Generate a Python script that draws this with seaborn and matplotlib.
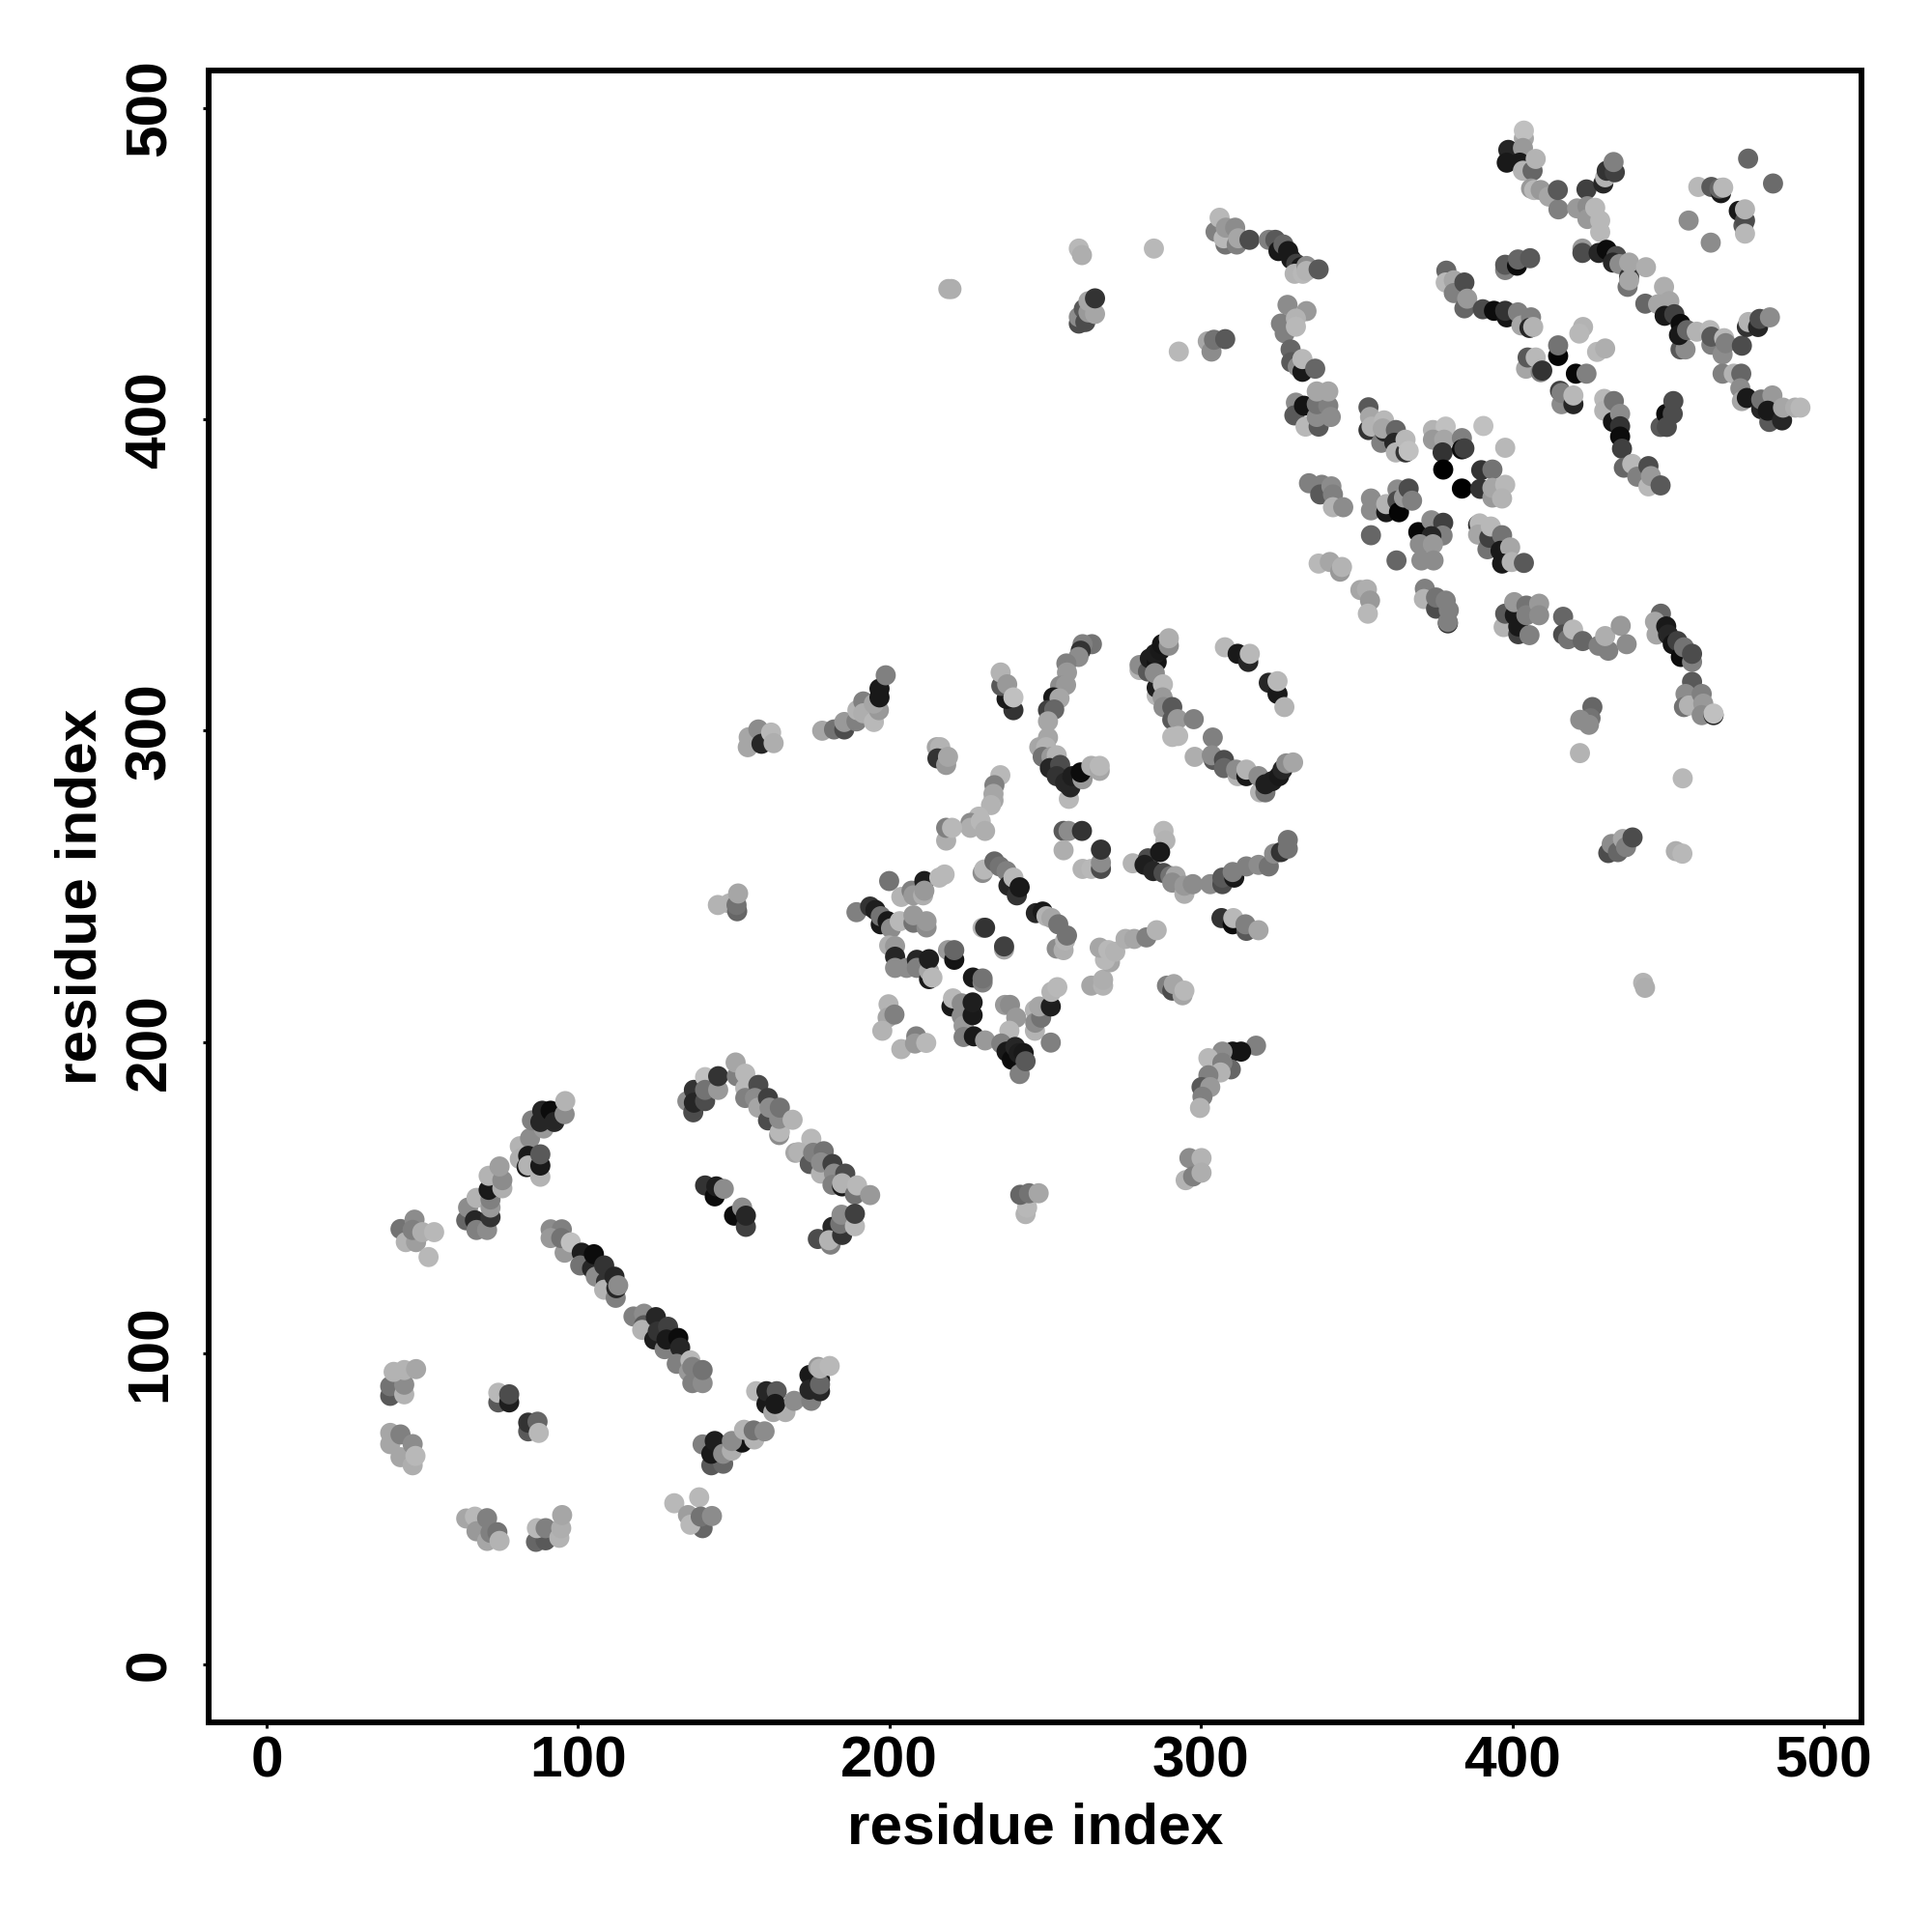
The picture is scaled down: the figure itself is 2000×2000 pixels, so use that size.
# Residue contact map, drawn from contacts
import pandas as pd
import matplotlib
matplotlib.use('Agg')
import matplotlib.pyplot as plt
import seaborn as sns

sns.set_theme(style='white')
plt.rcParams['font.family'] = ['Liberation Sans', 'DejaVu Sans']
plt.rcParams['font.weight'] = 'bold'

# each contact is (residue index, residue index, grey level)
lower_left = [
    (43.0,139.9,.45),(47.5,142.9,.55),(44.7,135.7,.7),(48.0,135.7,.62),(46.9,139.6,.5),(50.0,138.9,.68),(53.8,138.9,.72),(52.0,130.9,.72),
    (64.1,142.7,.4),(64.7,146.8,.55),(66.9,142.7,.15),(67.4,139.6,.5),(70.8,139.6,.55),(67.4,149.9,.7),(71.9,143.7,.2),(71.9,146.8,.6),
    (71.9,149.4,.5),(71.3,152.5,.1),(71.3,157.0,.7),(75.7,153.0,.68),(75.7,155.6,.55),(74.8,160.0,.62),
    (81.3,166.5,.7),(81.3,162.4,.68),(83.5,159.8,.1),(84.6,169.1,.55),(84.0,163.4,.1),(84.0,160.3,.7),(87.9,156.7,.7),(87.9,160.3,.1),
    (87.9,163.9,.35),(85.2,174.8,.5),(89.0,172.2,.6),(87.9,174.3,.15),(88.5,177.9,.15),(91.2,177.9,.05),(92.4,174.3,.15),(95.7,176.8,.55),(95.9,181.0,.7),
    (39.7,86.3,.35),(39.7,89.4,.45),(44.2,86.8,.7),(44.2,89.9,.55),(40.8,94.0,.7),(44.2,94.6,.7),(48.0,94.9,.65),
    (39.7,74.4,.65),(39.7,70.8,.65),(43.0,73.9,.5),(43.0,66.6,.65),(46.9,70.8,.55),(46.9,64.0,.68),(47.8,67.0,.72),
    (74.4,84.2,.35),(74.4,87.3,.72),(77.9,84.2,.12),(77.9,86.8,.3),(84.0,74.9,.35),(84.0,77.7,.2),(87.0,78.0,.4),(87.4,74.4,.72),
    (64.1,46.9,.65),(66.9,47.5,.72),(67.4,42.8,.6),(70.8,47.0,.5),(70.8,39.7,.65),(71.9,42.3,.5),(74.1,42.5,.45),(74.8,39.7,.7),
    (86.5,39.4,.4),(89.6,39.9,.35),(86.8,43.8,.72),(89.6,43.8,.5),(94.0,40.7,.7),(94.6,43.8,.68),(94.9,48.0,.65),
]
first_diagonal = [
    (91.2,139.8,.55),(94.8,139.8,.5),(91.2,137.0,.6),(95.7,132.3,.6),(94.6,137.0,.45),(97.7,135.6,.75),(101.2,132.3,.12),(100.7,128.2,.45),
    (104.5,127.2,.15),(105.1,131.8,.05),(105.7,124.6,.55),(108.4,128.2,.2),(109.0,123.0,.2),(108.4,120.4,.7),(112.1,117.8,.5),(111.7,124.6,.15),
    (112.3,120.9,.15),(112.9,121.8,.55),
    (117.8,111.8,.5),(121.2,112.7,.55),(121.2,109.0,.35),(120.6,107.5,.7),(125.0,111.6,.15),(124.5,104.4,.12),(127.8,101.3,.5),(125.6,107.0,.2),
    (128.9,108.5,.25),(128.4,104.4,.1),(132.2,104.9,.05),(132.8,101.8,.15),(131.7,96.6,.5),(136.1,97.7,.72),(135.6,94.0,.6),(136.7,90.4,.5),
    (140.0,90.4,.55),(136.7,95.6,.5),(140.0,94.6,.45),
]
lower_middle = [
    (157.2,87.8,.72),(160.5,83.7,.1),(160.5,87.8,.15),(163.8,87.8,.35),(162.7,81.1,.65),(166.6,81.1,.68),(163.3,83.7,.1),(169.4,84.7,.55),
    (174.9,84.7,.5),(174.3,93.0,.1),(174.3,88.3,.15),(177.7,87.8,.15),(177.7,91.5,.1),(177.7,90.0,.4),(177.1,95.6,.6),(177.7,95.1,.7),(180.8,95.9,.72),
    (140.0,70.7,.5),(142.8,64.0,.35),(146.6,64.5,.4),(142.8,67.7,.1),(143.9,71.8,.12),(146.6,67.7,.55),(149.4,68.7,.68),(152.7,71.3,.08),
    (149.4,71.8,.55),(153.3,75.4,.7),(156.6,72.3,.7),(156.4,75.2,.45),(159.9,74.9,.55),
    (130.9,51.8,.72),(138.9,53.7,.72),(140.0,43.8,.4),(135.3,48.0,.62),(136.1,44.9,.72),(139.4,47.5,.45),(143.0,47.7,.55),
    (135.1,181.0,.55),(137.0,177.4,.3),(137.2,184.6,.2),(137.2,180.5,.15),(140.8,181.0,.3),(140.8,188.7,.75),(140.8,184.6,.45),(145.0,184.6,.6),(145.0,189.0,.2),
    (151.0,189.0,.5),(150.6,193.4,.65),(153.7,189.8,.72),(153.7,185.1,.72),(153.7,182.0,.5),(157.9,186.2,.3),(156.8,182.0,.55),(157.9,178.9,.65),
    (161.0,182.0,.25),(161.0,174.8,.3),(161.5,178.9,.55),(164.6,170.1,.55),(164.8,171.1,.72),(164.6,175.3,.55),(164.8,178.9,.45),(168.9,175.0,.7),
    (174.9,168.9,.72),(169.8,164.4,.65),(170.8,164.6,.7),(174.4,160.8,.35),(175.5,164.4,.5),(178.9,164.9,.45),(178.0,157.7,.7),(178.0,161.3,.55),
    (181.7,160.8,.25),(182.2,157.7,.55),(181.7,154.1,.5),(184.8,153.6,.1),(185.8,157.7,.3),(184.8,154.6,.7),(188.9,151.0,.45),(189.6,153.9,.72),(193.8,150.8,.6),
    (177.0,136.7,.3),(181.1,134.9,.5),(181.7,140.6,.15),(180.6,136.3,.7),(184.8,138.0,.2),(184.2,141.6,.45),(184.6,144.5,.55),(188.9,140.8,.72),(188.9,144.8,.25),
    (140.8,153.9,.2),(143.9,150.4,.05),(144.4,153.6,.12),(146.8,152.8,.55),(150.1,144.2,.05),(152.7,146.8,.55),(153.9,140.6,.25),(153.9,144.2,.15),
    (154.5,294.7,.65),(154.8,297.9,.65),(157.9,300.4,.55),(158.9,295.8,.15),(162.0,299.4,.72),(162.8,296.0,.68),
    (144.9,244.0,.7),(148.6,244.5,.7),(151.1,242.0,.4),(150.9,244.0,.45),(151.4,247.7,.65),
    (243.7,144.7,.7),(244.2,146.8,.72),(242.0,150.9,.4),(244.8,151.4,.45),(247.9,151.4,.65),
    (296.3,162.7,.55),(295.1,155.6,.7),(297.5,156.8,.5),(300.2,162.7,.7),(300.2,158.0,.68),
]
central = [
    (178.4,300.0,.65),(182.2,300.4,.45),(185.5,300.4,.3),(185.5,302.8,.6),(189.4,303.0,.5),(189.7,306.6,.7),(191.6,309.4,.5),(191.6,305.6,.68),(195.0,302.8,.72),
    (196.6,306.6,.6),(195.0,308.7,.65),(196.8,310.7,.1),(196.8,313.5,.1),(198.8,317.8,.5),
    (215.2,294.7,.65),(216.3,294.7,.7),(215.4,291.1,.2),(218.2,289.0,.6),(218.8,291.6,.65),
    (235.6,285.7,.72),(233.7,282.5,.5),(233.4,279.7,.65),(233.4,277.6,.65),(232.6,276.1,.7),(228.7,272.4,.72),(226.0,270.4,.55),(226.0,268.8,.68),
    (229.3,270.9,.72),(230.7,267.8,.68),(218.2,264.7,.68),(218.2,268.8,.5),(220.1,268.8,.72),
    (239.8,306.6,.2),(237.6,310.2,.1),(235.9,314.4,.35),(235.7,318.7,.7),(237.8,314.9,.6),(239.8,310.7,.75),
    (265.0,327.8,.45),(262.0,327.8,.5),(261.4,325.7,.2),(260.7,323.7,.55),(256.8,321.6,.5),(257.0,318.7,.6),(254.8,314.4,.55),(256.7,314.7,.6),
    (252.6,310.7,.1),(254.6,310.4,.65),(250.9,306.6,.25),(252.9,306.8,.4),(250.9,303.0,.65),
    (250.9,297.8,.65),(248.1,294.7,.65),(250.3,294.7,.7),(249.2,291.6,.45),(252.0,291.6,.6),(253.7,292.1,.7),(251.5,288.0,.15),(254.8,289.0,.3),
    (253.7,285.4,.2),(257.6,278.1,.72),(258.1,281.8,.15),(256.4,283.3,.15),(258.7,285.4,.12),(262.0,284.4,.6),(261.4,286.6,.05),(264.8,288.7,.68),(267.5,287.1,.65),(267.5,288.7,.72),
    (280.3,319.5,.7),(280.3,321.1,.55),(283.0,319.0,.35),(283.6,323.2,.12),(285.8,322.1,.08),(285.3,324.7,.12),(286.9,325.8,.1),(287.5,327.8,.08),(289.7,327.3,.55),(289.7,329.7,.68),
    (285.8,311.3,.72),(285.8,313.8,.12),(285.2,318.5,.55),(287.8,314.9,.72),(287.7,310.7,.6),(288.0,307.6,.55),(290.8,307.6,.35),(290.8,303.5,.35),(292.5,303.7,.6),(297.7,303.7,.5),(290.8,298.0,.72),(292.7,298.3,.72),
    (303.8,297.8,.5),(298.0,291.6,.68),(304.1,290.6,.35),(303.5,292.1,.55),(307.4,290.6,.3),(307.4,288.0,.4),(311.8,285.4,.7),(311.3,287.5,.55),(314.6,285.4,.1),(314.6,287.5,.7),
    (319.0,280.2,.7),(320.7,280.2,.45),(318.5,285.4,.55),(320.7,282.8,.12),(322.9,283.8,.12),(325.1,285.4,.1),(326.2,287.5,.15),(327.4,289.5,.55),(329.6,289.8,.65),
    (307.7,326.8,.72),(311.8,324.7,.1),(315.2,322.1,.15),(315.7,324.7,.72),(321.8,315.4,.15),(324.6,311.8,.1),(324.6,315.9,.72),(326.8,307.6,.7),
    (199.9,251.7,.45),(203.8,246.6,.7),(207.1,248.6,.5),(207.7,247.1,.6),(210.8,247.1,.68),(211.2,251.7,.12),(211.2,248.6,.6),(216.0,252.8,.72),(217.7,253.8,.72),
    (229.9,254.3,.55),(230.4,255.4,.72),(233.7,258.0,.4),(235.4,256.4,.45),(237.6,254.9,.5),(238.2,250.2,.15),(239.8,252.8,.72),(240.9,247.1,.2),(241.8,249.7,.1),
    (247.0,241.4,.15),(249.2,241.9,.1),(250.4,240.4,.7),(253.7,230.0,.55),(255.9,229.5,.68),(252.0,239.8,.65),(254.2,237.8,.45),(256.4,232.6,.7),(257.0,234.2,.45),
    (189.4,241.7,.5),(193.8,243.5,.2),(195.5,242.4,.12),(197.2,237.8,.1),(197.2,240.4,.45),(199.4,238.8,.1),(200.5,236.5,.55),(203.3,238.8,.72),(207.7,238.3,.45),(207.7,240.7,.6),(211.9,236.8,.55),(211.9,238.8,.6),
    (199.9,231.0,.68),(201.8,230.8,.6),(201.8,227.4,.15),(201.8,223.8,.55),(205.5,223.8,.55),(208.8,226.4,.15),(208.8,223.8,.5),(212.7,220.2,.1),(212.7,222.8,.65),(212.7,226.6,.12),(213.8,220.7,.72),
    (218.8,229.5,.6),(220.8,226.4,.08),(220.8,229.5,.4),(229.9,236.7,.7),(230.7,236.7,.2),(236.8,229.7,.65),(236.8,230.7,.25),(226.8,220.7,.1),(229.9,219.1,.5),(229.9,220.4,.45),
    (199.7,212.1,.7),(199.4,207.8,.65),(201.6,208.8,.5),(197.7,203.6,.7),(203.8,197.7,.7),(208.6,201.8,.5),(208.2,199.5,.6),(211.8,199.7,.72),
    (219.9,211.4,.1),(220.4,214.0,.72),(223.2,212.4,.55),(223.2,208.3,.55),(223.8,205.2,.6),(223.8,201.6,.5),(226.7,208.6,.1),(226.7,212.7,.12),(227.1,201.8,.1),(230.7,200.5,.6),
    (237.1,211.9,.6),(238.7,211.9,.55),(240.7,207.8,.6),(238.5,203.6,.72),(235.9,199.5,.5),(237.6,196.9,.1),(239.3,194.3,.05),(240.4,198.4,.15),(241.5,196.4,.12),(243.1,196.4,.1),(241.8,189.7,.5),(243.7,193.8,.35),
    (246.7,210.3,.7),(246.7,203.6,.7),(246.8,206.2,.55),(248.7,207.8,.45),(248.1,211.4,.65),(251.8,211.4,.12),(252.0,216.1,.7),(253.9,217.6,.72),(251.8,199.8,.5),
    (264.8,218.1,.65),(268.6,218.1,.7),(268.6,220.0,.68),(270.8,225.6,.65),(269.2,226.4,.72),(267.5,230.3,.65),(270.3,229.5,.72),(272.5,229.0,.7),(275.8,233.1,.68),(278.6,233.1,.65),(282.5,233.6,.5),(285.8,235.9,.7),
    (255.9,267.8,.35),(255.9,261.6,.68),(257.5,267.8,.55),(261.8,267.8,.2),(262.0,255.6,.7),(264.8,255.6,.72),(267.9,255.6,.3),(267.9,257.6,.55),(267.9,261.8,.2),
    (288.0,267.8,.72),(288.6,264.7,.7),(278.1,257.4,.7),(283.0,259.0,.3),(281.9,256.9,.12),(286.9,261.0,.1),(284.7,254.9,.15),(288.0,254.3,.3),(290.2,253.3,.45),(291.9,253.3,.65),(290.8,251.2,.55),(294.7,247.6,.68),(294.7,250.2,.6),(297.4,250.7,.55),
    (303.0,250.7,.55),(306.9,250.7,.3),(306.9,252.8,.35),(310.7,252.8,.1),(310.2,254.6,.5),(314.6,256.4,.5),(318.5,256.9,.55),(321.8,256.4,.45),(323.5,260.5,.55),(325.7,261.0,.2),(327.9,262.1,.45),(327.9,264.9,.45),
    (306.6,239.8,.2),(310.2,237.8,.05),(310.4,239.8,.72),(314.6,235.7,.35),(314.3,237.8,.5),(318.5,235.9,.65),
    (289.1,218.1,.5),(290.8,216.5,.3),(291.3,218.6,.65),(294.1,215.0,.65),(294.7,216.5,.72),
    (317.7,198.8,.5),(312.9,196.9,.08),(310.2,196.9,.08),(306.9,196.9,.55),(302.4,194.8,.72),(309.6,191.2,.4),(306.9,193.3,.5),(306.3,190.2,.7),(302.4,189.3,.5),(300.2,185.5,.35),(303.0,185.5,.6),(300.5,182.4,.5),(299.7,178.8,.7),
]
upper_left = [
    (218.9,441.9,.68),(219.9,441.9,.68),(260.8,454.9,.72),(261.8,452.8,.68),(284.9,454.9,.72),(292.9,421.8,.72),
    (260.8,430.8,.3),(260.8,432.9,.55),(262.4,435.5,.35),(262.9,431.3,.3),(263.9,434.4,.6),(263.9,438.0,.65),(266.0,433.9,.65),(266.0,438.9,.2),
    (302.2,425.1,.65),(303.4,421.8,.55),(304.2,425.6,.45),(307.8,425.8,.35),
    (304.7,460.3,.5),(306.0,464.8,.72),(307.9,456.2,.45),(307.3,458.2,.72),(308.0,461.6,.6),(311.0,461.6,.55),(311.5,456.2,.5),(312.0,458.2,.65),(315.6,457.7,.3),
    (321.8,457.7,.5),(323.9,457.7,.35),(324.9,454.1,.1),(326.5,456.2,.4),(328.0,454.1,.1),(329.0,451.5,.1),(330.6,450.0,.25),(332.1,448.9,.1),(330.1,446.8,.7),(332.7,446.8,.72),(333.9,449.3,.55),(333.9,447.7,.7),(337.8,448.2,.35),
    (327.8,436.8,.55),(333.9,434.8,.6),(325.7,430.8,.5),(326.9,427.7,.5),(330.5,432.4,.7),(330.5,429.8,.72),(328.8,422.5,.4),(329.0,418.4,.35),(331.1,416.9,.55),(332.6,415.3,.1),(332.6,419.4,.72),(336.7,416.3,.4),
]
middle_cross = [
    (330.5,405.4,.55),(330.0,401.3,.35),(333.6,397.7,.72),(333.1,404.4,.08),(337.8,397.7,.35),(337.2,400.8,.55),(337.2,404.9,.45),(340.9,404.4,.5),(341.7,400.8,.55),(337.2,409.0,.65),(340.9,409.0,.65),
    (353.8,403.9,.35),(353.8,396.6,.2),(354.3,400.8,.65),(354.8,397.7,.7),(357.9,392.5,.5),(358.8,399.7,.72),(359.0,396.1,.15),(358.4,397.1,.65),(362.6,396.6,.4),(362.1,392.5,.15),(362.6,389.4,.7),(365.7,389.4,.2),(365.7,393.5,.72),(366.7,389.9,.75),
    (374.5,396.6,.7),(378.6,397.7,.75),(374.5,393.5,.6),(378.1,393.5,.65),(377.6,389.4,.2),(383.8,394.0,.5),(383.8,390.4,.05),(384.6,390.7,.25),(390.7,397.9,.75),(397.7,390.9,.72),
    (377.8,383.9,.0),(383.8,377.8,.0),(390.0,383.7,.2),(393.6,383.9,.45),(389.7,377.7,.2),(393.6,374.9,.6),(393.6,378.0,.65),(397.7,379.0,.72),(396.7,374.6,.7),
    (334.7,379.5,.5),(338.8,379.0,.5),(338.3,375.9,.35),(341.9,378.5,.55),(342.4,375.9,.5),(342.4,371.8,.7),(345.7,371.8,.55),
    (354.6,374.6,.55),(354.6,370.8,.55),(359.5,370.2,.1),(359.5,372.8,.7),(363.1,377.5,.55),(363.1,373.9,.3),(363.6,370.2,.02),(365.2,374.9,.6),(366.7,377.8,.3),(367.8,373.9,.5),(354.6,362.8,.4),
    (369.8,363.8,.03),(374.0,367.6,.55),(377.8,366.8,.25),(377.6,362.7,.5),(374.0,362.5,.15),(370.3,359.9,.55),(374.5,359.9,.6),(370.8,354.7,.55),(374.7,354.7,.55),(362.8,354.7,.4),
    (389.0,366.1,.2),(389.5,366.6,.72),(389.0,363.0,.65),(392.0,358.3,.45),(392.6,362.0,.25),(393.1,365.6,.72),(396.7,362.8,.45),(396.2,357.8,.1),(399.3,358.9,.65),(396.7,353.7,.1),(399.8,354.2,.7),(403.7,353.9,.35),
    (337.8,353.7,.72),(341.4,354.2,.65),(344.7,351.1,.6),(345.3,352.6,.7),(351.2,345.2,.65),(353.3,345.4,.68),(354.3,341.8,.6),(353.6,337.6,.72),
    (371.9,345.6,.5),(371.6,342.3,.7),(375.5,339.2,.3),(375.5,342.8,.45),(378.6,341.8,.5),(379.3,334.5,.15),(379.6,338.7,.5),(379.3,334.9,.5),
    (397.2,333.3,.7),(397.7,337.6,.35),(400.8,337.1,.1),(400.6,341.3,.6),(401.9,331.0,.25),(401.9,333.5,.1),(404.5,340.2,.45),(404.5,337.1,.5),(405.5,330.7,.5),(408.6,340.8,.6),(408.6,337.1,.55),
    (416.3,336.6,.4),(416.3,330.9,.3),(417.9,329.4,.45),(419.5,332.5,.72),(422.6,328.8,.4),(427.7,327.3,.5),(430.8,325.7,.5),(429.8,330.4,.68),(434.8,333.7,.6),(436.7,327.8,.55),
    (447.7,337.6,.4),(445.8,335.0,.65),(446.3,330.9,.65),(449.4,333.5,.1),(450.0,330.9,.15),(451.5,327.8,.08),(453.0,328.8,.25),(454.1,323.7,.05),(455.1,326.8,.45),(457.7,322.1,.5),(457.7,324.7,.3),
    (457.7,315.7,.35),(455.6,311.8,.55),(455.1,307.6,.45),(456.7,308.1,.7),(460.8,311.8,.5),(461.3,308.7,.6),(460.8,305.0,.55),(464.6,305.0,.15),(464.6,305.5,.75),
    (425.7,307.6,.4),(425.1,304.0,.45),(421.8,303.5,.55),(424.6,301.9,.55),(421.7,292.8,.7),(454.7,284.7,.72),
    (430.8,260.7,.3),(431.9,263.6,.55),(433.9,261.0,.4),(435.5,265.2,.65),(436.5,262.6,.5),(438.6,265.7,.3),(452.5,261.3,.68),(454.6,260.5,.72),
    (442.0,219.0,.7),(442.6,217.4,.68),
]
upper_right = [
    (398.7,486.6,.15),(398.2,482.5,.1),(403.7,490.3,.65),(403.7,492.8,.75),(403.4,487.2,.6),(402.4,482.5,.1),(403.4,479.9,.7),(406.5,479.9,.4),(407.5,483.7,.7),(406.0,474.2,.6),(407.0,473.7,.72),(409.1,473.7,.6),(411.7,471.6,.65),(414.8,467.5,.5),(414.6,473.7,.35),
    (423.8,473.9,.25),(429.2,475.8,.15),(429.8,477.8,.7),(430.3,479.9,.2),(432.9,479.4,.25),(432.5,482.7,.5),
    (420.8,467.8,.6),(424.1,468.5,.55),(424.1,464.4,.6),(422.5,454.9,.6),(422.5,453.5,.3),(426.6,468.0,.72),(428.2,463.9,.72),(428.2,460.2,.72),(427.7,453.5,.15),(430.3,454.5,.05),(433.4,452.5,.3),(432.3,450.4,.15),(434.4,449.9,.55),(437.0,442.6,.45),(437.5,445.8,.2),(437.5,444.7,.65),(437.5,450.4,.65),(442.9,448.9,.68),
    (448.7,442.6,.68),(442.7,437.2,.4),(446.8,437.0,.65),(450.4,438.0,.65),(448.9,433.3,.1),(452.0,433.8,.25),(454.0,430.7,.05),(454.0,422.5,.35),(455.6,422.5,.55),(453.5,427.1,.1),(456.1,428.7,.4),(459.2,428.2,.7),(463.4,428.7,.72),(463.9,424.0,.5),(463.9,426.6,.35),(467.5,420.9,.55),(468.0,426.1,.72),(468.5,424.5,.5),(473.7,423.7,.3),
    (475.3,429.7,.2),(475.8,431.3,.7),(478.9,429.7,.15),(479.4,432.3,.3),(482.7,432.8,.55),
    (467.5,414.7,.5),(471.1,414.7,.7),(473.5,414.7,.4),(473.2,410.0,.55),(473.7,405.9,.65),(475.3,406.9,.1),(479.9,403.3,.15),(479.9,406.4,.45),(483.5,407.7,.6),(482.5,399.2,.35),(482.0,402.8,.1),(486.6,399.7,.15),(486.9,403.8,.65),(490.8,403.8,.68),(492.5,403.8,.72),
    (475.7,483.8,.4),(483.7,475.8,.42),(459.7,474.7,.72),(463.9,474.7,.35),(467.0,472.7,.1),(466.5,474.2,.4),(467.7,474.5,.72),(472.7,467.0,.1),(474.2,462.3,.35),(474.7,463.9,.3),(474.7,467.5,.7),(474.7,459.7,.72),(456.6,463.9,.55),(463.7,456.8,.55),
    (378.8,447.8,.4),(378.6,444.0,.72),(381.2,444.7,.65),(381.2,440.6,.5),(384.6,444.0,.3),(384.6,435.7,.4),(385.5,438.8,.6),(390.5,435.4,.3),(394.1,434.9,.05),(398.2,432.8,.08),(397.7,434.9,.2),(401.8,434.4,.5),(402.9,430.2,.65),(406.0,432.8,.5),(405.5,429.4,.15),(406.7,429.7,.7),
    (397.7,448.0,.5),(397.7,449.7,.35),(401.5,449.4,.05),(401.8,451.4,.4),(405.7,451.8,.35),
    (422.7,429.7,.7),(421.5,427.6,.72),(427.2,421.7,.72),(429.8,422.8,.68),(404.4,416.3,.65),(404.9,419.9,.35),(407.5,419.9,.72),(409.1,415.2,.5),(409.6,415.7,.2),(414.7,420.4,.02),(414.7,423.8,.45),(420.4,414.7,.03),(423.8,414.7,.5),
    (415.3,409.2,.25),(415.8,404.9,.55),(415.8,408.5,.5),(419.6,404.9,.15),(419.6,407.7,.72),
    (429.5,406.6,.72),(429.5,402.8,.7),(432.6,405.9,.45),(432.3,399.2,.08),(434.6,401.8,.55),(434.6,397.8,.2),(434.6,394.5,.05),(435.2,390.6,.25),
    (447.6,397.6,.35),(449.4,401.8,.05),(451.7,405.9,.3),(451.5,401.8,.3),(449.6,397.6,.3),
    (435.8,384.5,.4),(438.5,385.7,.72),(440.1,381.6,.5),(443.7,385.0,.3),(443.7,378.5,.72),(444.5,381.8,.6),(447.6,378.8,.35),
]

tick_values = [0, 100, 200, 300, 400, 500]

contacts = pd.DataFrame(lower_left + first_diagonal + lower_middle + central + upper_left + middle_cross + upper_right,
                        columns=['res_i', 'res_j', 'grey'])

fig = plt.figure(figsize=(20, 20), dpi=100, facecolor='white')
ax = fig.add_axes([0.108, 0.1085, 0.8555, 0.855])

sns.scatterplot(x='res_i', y='res_j', hue='grey', data=contacts, palette='gray', hue_norm=(0, 1),
                s=225, linewidth=0, legend=False, ax=ax)

ax.set_xlim(-18.6, 512.1)
ax.set_ylim(-18.6, 512.1)
ax.set_xticks(tick_values)
ax.set_yticks(tick_values)
ax.tick_params(axis='both', length=4.5, width=2.2, color='black', labelsize=43.5, labelcolor='black', direction='out', bottom=True, left=True)
ax.tick_params(axis='x', pad=5)
ax.tick_params(axis='y', pad=19)
for lab in ax.get_yticklabels():
    lab.set_rotation(90)
    lab.set_verticalalignment('center')
for spine in ax.spines.values():
    spine.set_visible(True)
    spine.set_color('black')
    spine.set_linewidth(4.3)
ax.set_xlabel('residue index', fontsize=43.5, fontweight='bold', color='black', labelpad=10)
ax.set_ylabel('residue index', fontsize=43.5, fontweight='bold', color='black', labelpad=12)

fig.savefig('out.png', dpi=100, facecolor='white')
